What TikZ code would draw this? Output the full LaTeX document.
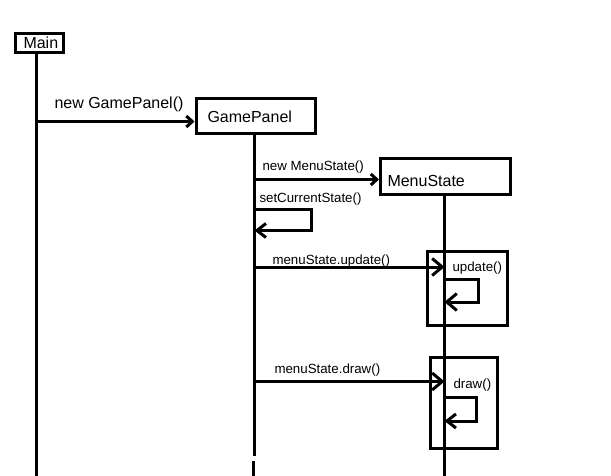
\documentclass[tikz,border=0pt]{standalone}
\usepackage{fontspec}
\setmainfont{Liberation Sans}
\usetikzlibrary{arrows.meta}
\begin{document}
\begin{tikzpicture}[x=1pt,y=-1pt,line width=3pt,
  box/.style={draw,line width=3pt,inner sep=0pt},
  big/.style={anchor=base west,inner sep=0pt,font=\fontsize{16}{19}\selectfont},
  lbl/.style={anchor=base west,inner sep=0pt,font=\fontsize{13.3}{15}\selectfont},
  tipA/.style={-{Straight Barb[length=6pt,width=11pt,line width=3pt]}},
  tipB/.style={-{Straight Barb[length=9pt,width=14pt,line width=3pt]}},
  tipC/.style={-{Straight Barb[length=10pt,width=17pt,line width=3pt]}}]
\useasboundingbox[fill=white] (0,0) rectangle (611,476);
% boxes
\node[box,minimum width=48pt,minimum height=19pt] (main) at (39.5,43) {};
\node[box,minimum width=119pt,minimum height=35pt] (gp) at (255.5,116.2) {};
\node[box,minimum width=130pt,minimum height=36.3pt] (ms) at (445.5,176.8) {};
\node[box,minimum width=80pt,minimum height=74pt] (upd) at (467,288) {};
\node[box,minimum width=66.5pt,minimum height=91pt] (drw) at (463.75,402.5) {};
% box texts
\node[big] (tmain) at (22,49) {Main};
\node[big] (tgp) at (206,123) {GamePanel};
\node[big] (tms) at (386,187) {MenuState};
\node[lbl] (tupd) at (451,271) {update()};
\node[lbl] (tdrw) at (452,388) {draw()};
% lifelines
\coordinate (mainEnd) at (36.7,478);
\coordinate (gpA) at (254.5,456);
\coordinate (gpB) at (253.5,461);
\coordinate (gpEnd) at (253.5,478);
\coordinate (msEnd) at (444.5,478);
\draw (main.south -| mainEnd) -- (mainEnd);
\draw (gp.south -| gpA) -- (gpA);
\draw (gpB) -- (gpEnd);
\draw (ms.south -| msEnd) -- (msEnd);
% messages
\coordinate (m1) at (36.7,121.5);
\draw[tipA] (m1) -- (m1 -| gp.west);
\node[big] (l1) at (53,109) {new GamePanel()};
\coordinate (m2) at (254.5,179.5);
\draw[tipA] (m2) -- (m2 -| ms.west);
\node[lbl] (l2) at (261,171) {new MenuState()};
\coordinate (s1a) at (254.5,210);
\coordinate (s1b) at (254.5,230.5);
\draw[tipB] (s1a) -- (311.5,210) -- (311.5,230.5) -- (s1b);
\node[lbl] (l3) at (258,203) {setCurrentState()};
\coordinate (m3a) at (254.5,267);
\coordinate (m3b) at (444.5,267);
\draw[tipC] (m3a) -- (m3b);
\node[lbl] (l4) at (271,264) {menuState.update()};
\coordinate (s2a) at (444.5,279.5);
\coordinate (s2b) at (444.5,302);
\draw[tipC] (s2a) -- (478.5,279.5) -- (478.5,302) -- (s2b);
\coordinate (m4a) at (254.5,381.5);
\coordinate (m4b) at (444.5,381.5);
\draw[tipC] (m4a) -- (m4b);
\node[lbl] (l5) at (273,373) {menuState.draw()};
\coordinate (s3a) at (444.5,397);
\coordinate (s3b) at (444.5,421);
\draw[tipB] (s3a) -- (476,397) -- (476,421) -- (s3b);
\end{tikzpicture}
\end{document}
